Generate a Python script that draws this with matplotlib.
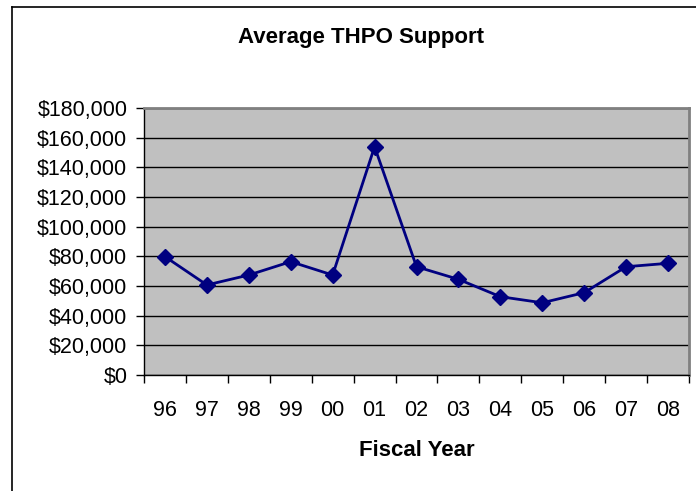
import matplotlib
matplotlib.use("Agg")
import matplotlib.pyplot as plt
import matplotlib.ticker as mticker
from matplotlib.lines import Line2D

# ── Data ─────────────────────────────────────────────
years = ["96", "97", "98", "99", "00", "01", "02", "03", "04", "05", "06", "07", "08"]
support = [79800, 60700, 67400, 76400, 67400, 153900, 73000, 64500, 52800, 48700, 55500, 73000, 75300]

NAVY = "#000080"
PLOT_BG = "#C0C0C0"

plt.rcParams.update({"font.family": ["Liberation Sans", "DejaVu Sans"]})

W, H = 696, 491
fig = plt.figure(figsize=(W / 100, H / 100), dpi=100)
ax = fig.add_axes([144 / W, 1 - 375 / H, (689 - 144) / W, (375 - 108) / H])
ax.set_facecolor(PLOT_BG)

x = range(len(years))
ax.plot(x, support, color=NAVY, linewidth=2, marker="D", markersize=8,
        markerfacecolor=NAVY, markeredgecolor=NAVY, zorder=3)

ax.set_xlim(-0.5, len(years) - 0.5)
ax.set_ylim(0, 180000)
ax.yaxis.set_major_locator(mticker.MultipleLocator(20000))
ax.yaxis.set_major_formatter(mticker.FuncFormatter(lambda v, _: f"${v:,.0f}"))
ax.grid(axis="y", color="black", linewidth=1)
ax.set_axisbelow(True)

ax.set_xticks(list(x))
ax.set_xticklabels(years)
ax.set_xticks([i - 0.5 for i in range(len(years) + 1)], minor=True)
ax.tick_params(axis="x", which="major", length=0, pad=18, labelsize=15.5)
ax.tick_params(axis="x", which="minor", length=6, width=1, direction="out", color="black")
ax.tick_params(axis="y", length=6, width=1, direction="out", labelsize=15.5, pad=6)

for side in ("top", "right"):
    ax.spines[side].set_color("#808080")
    ax.spines[side].set_linewidth(2)
for side in ("left", "bottom"):
    ax.spines[side].set_color("black")
    ax.spines[side].set_linewidth(1)

fig.text(361 / W, 1 - 38 / H, "Average THPO Support", ha="center", va="center",
         fontsize=16, fontweight="bold")
fig.text(416.5 / W, 1 - 450 / H, "Fiscal Year", ha="center", va="center",
         fontsize=16, fontweight="bold")

# chart frame (left and top edges, rest cropped)
fig.add_artist(Line2D([12 / W, 12 / W], [0, 1 - 7 / H], color="black", linewidth=1.2,
                      transform=fig.transFigure))
fig.add_artist(Line2D([12 / W, 1], [1 - 7 / H, 1 - 7 / H], color="black", linewidth=1.2,
                      transform=fig.transFigure))

fig.savefig("out.png", dpi=100, facecolor="white")
